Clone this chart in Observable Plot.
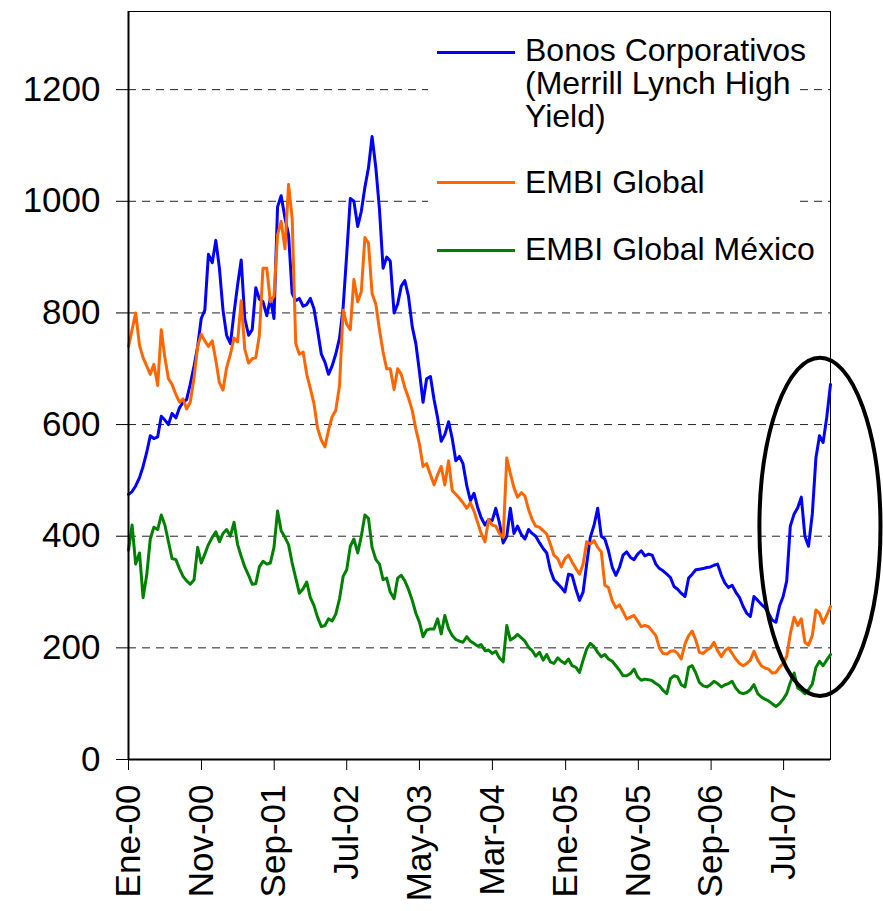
<!DOCTYPE html>
<html>
<head>
<meta charset="utf-8">
<script src="https://cdn.jsdelivr.net/npm/d3@7"></script>
<script src="https://cdn.jsdelivr.net/npm/@observablehq/plot@0.6"></script>
<style>
  body { margin: 0; background: #fff; }
  #wrap { position: relative; width: 883px; height: 911px; font-family: "Liberation Sans", Arial, sans-serif; }
  #legend { position: absolute; left: 428px; top: 20px; width: 372px; height: 258px; background: #fff; }
  .sw { position: absolute; left: 9px; width: 78px; height: 3px; }
  .lbl { position: absolute; left: 97px; font-size: 32px; line-height: 33px; color: #000; white-space: nowrap; }
</style>
</head>
<body>
<div id="wrap"></div>
<script>
// ---- data (semi-monthly readings, Jan 2000 – Jan 2008) ----
const seriesNames = ["Bonos Corporativos (Merrill Lynch High Yield)", "EMBI Global", "EMBI Global México"];
const seriesColors = ["#0000FF", "#FF6600", "#008000"];

const bonosCorporativos = [
  475,480,490,505,525,550,580,575,578,615,
  608,600,620,612,630,640,645,672,705,740,
  790,805,905,890,930,880,805,760,745,800,
  850,895,790,760,770,845,825,820,795,826,
  790,990,1010,970,940,835,822,826,812,815,
  826,808,770,726,712,690,705,726,755,810,
  905,1005,1000,955,982,1025,1060,1116,1059,985,
  880,900,893,800,816,848,858,830,775,745,
  695,640,682,686,645,612,570,582,605,575,
  535,543,530,490,464,477,452,433,420,430,
  428,450,425,388,400,450,405,418,403,395,
  412,405,400,388,378,370,340,322,315,308,
  300,332,330,305,285,300,350,398,420,450,
  400,395,374,344,330,344,366,372,362,358,
  368,374,365,368,366,350,342,338,332,326,
  310,305,298,292,325,332,340,341,342,344,
  345,348,350,330,316,308,312,300,290,274,
  262,256,292,285,278,272,262,250,246,275,
  292,320,418,440,451,470,400,382,440,540,
  580,568,612,672
];

const embiGlobal = [
  740,770,800,742,720,705,690,708,670,770,
  720,682,672,654,640,646,628,640,684,740,
  762,750,740,750,715,675,662,702,726,755,
  748,822,735,710,718,720,760,880,880,820,
  830,940,964,915,1030,970,745,726,730,690,
  665,638,594,572,560,590,614,625,670,805,
  780,770,860,820,838,935,925,835,815,770,
  730,700,700,663,700,690,666,648,625,592,
  565,525,530,510,492,510,525,492,535,482,
  475,468,460,450,460,445,425,405,390,430,
  420,418,405,398,540,512,487,470,478,472,
  448,430,418,416,410,404,386,366,360,345,
  360,366,354,342,332,350,390,386,392,380,
  372,312,308,284,272,277,265,252,255,258,
  248,238,240,238,230,222,200,190,189,194,
  195,190,180,207,222,230,214,192,190,196,
  200,210,195,184,195,200,190,180,172,168,
  172,178,194,178,168,164,162,155,156,165,
  172,185,225,255,240,252,210,205,222,268,
  262,244,258,274
];

const embiGlobalMexico = [
  375,420,350,370,290,330,395,416,412,438,
  420,390,360,358,342,328,320,314,322,380,
  352,368,385,398,408,390,405,412,400,425,
  385,364,345,330,314,315,345,355,350,352,
  380,445,410,398,385,352,325,298,306,318,
  290,276,255,238,240,252,248,260,288,328,
  340,382,395,370,400,438,432,380,358,350,
  322,325,300,288,325,330,320,305,285,262,
  246,220,232,234,234,252,225,258,234,222,
  215,212,210,220,212,208,203,206,195,196,
  190,194,182,175,240,214,218,224,218,212,
  201,195,185,192,178,188,175,172,182,176,
  172,180,168,165,156,178,198,208,202,192,
  184,188,180,176,168,160,150,150,154,162,
  148,142,144,143,141,136,132,124,118,145,
  150,148,134,130,165,168,155,138,132,130,
  134,140,136,130,134,136,140,128,120,118,
  120,125,134,118,112,108,105,100,95,100,
  108,118,138,155,128,124,118,125,135,165,
  176,168,178,188
];

const seriesValues = [bonosCorporativos, embiGlobal, embiGlobalMexico];

const startDate = "2000-01-01";
const endDate = "2008-01-13";
const stepDays = 15.2; // semi-monthly sampling

const yTicks = [0, 200, 400, 600, 800, 1000, 1200];
const xTickDates = ["2000-01-01","2000-11-01","2001-09-01","2002-07-01","2003-05-01","2004-03-01","2005-01-01","2005-11-01","2006-09-01","2007-07-01"];
const xTickLabels = ["Ene-00","Nov-00","Sep-01","Jul-02","May-03","Mar-04","Ene-05","Nov-05","Sep-06","Jul-07"];

// highlighted region (ellipse annotation)
const ellipseCenterDate = "2007-12-02";
const ellipseCenterValue = 416;
const ellipseHalfDays = 253;
const ellipseHalfValue = 303;

// ---- build ----
const start = new Date(startDate + "T00:00:00Z");
const end = new Date(endDate + "T00:00:00Z");
const dates = bonosCorporativos.map((_, i) => d3.utcDay.offset(start, Math.round(i * stepDays)));
const rows = seriesNames.flatMap((name, s) =>
  seriesValues[s].map((v, i) => ({date: dates[i], value: v, series: name}))
);
const tickDates = xTickDates.map(d => new Date(d + "T00:00:00Z"));
const labelMap = new Map(tickDates.map((d, i) => [+d, xTickLabels[i]]));

function ellipseMark(index, scales) {
  const c = new Date(ellipseCenterDate + "T00:00:00Z");
  const cx = scales.x(c);
  const cy = scales.y(ellipseCenterValue);
  const rx = scales.x(d3.utcDay.offset(c, ellipseHalfDays)) - cx;
  const ry = cy - scales.y(ellipseCenterValue + ellipseHalfValue);
  return d3.create("svg:ellipse")
    .attr("cx", cx).attr("cy", cy).attr("rx", rx).attr("ry", ry)
    .attr("fill", "none").attr("stroke", "#000").attr("stroke-width", 4)
    .node();
}

const chart = Plot.plot({
  width: 883,
  height: 911,
  marginTop: 11,
  marginBottom: 152,
  marginLeft: 128,
  marginRight: 53,
  style: {fontFamily: '"Liberation Sans", Arial, sans-serif', fontSize: "35px", color: "#000", background: "transparent", overflow: "visible"},
  x: {type: "utc", domain: [start, end]},
  y: {domain: [0, 1340]},
  color: {domain: seriesNames, range: seriesColors},
  marks: [
    Plot.gridY(yTicks, {stroke: "#222", strokeOpacity: 1, strokeDasharray: "8,6"}),
    Plot.frame({stroke: "#000", strokeWidth: 1}),
    Plot.lineY(rows, {x: "date", y: "value", z: "series", stroke: "series", strokeWidth: 3}),
    Plot.ruleX([start], {stroke: "#000", strokeWidth: 2}),
    Plot.ruleY([0], {stroke: "#000", strokeWidth: 2}),
    Plot.axisY(yTicks, {tickFormat: d => String(d), tickSize: 12, tickPadding: 16, label: null, stroke: "#000", strokeOpacity: 1}),
    Plot.axisX(tickDates, {tickFormat: d => labelMap.get(+d), tickRotate: -90, tickSize: 11, tickPadding: 14, label: null, stroke: "#000", strokeOpacity: 1}),
    ellipseMark
  ]
});

const wrap = document.getElementById("wrap");
wrap.appendChild(chart);

// ---- legend ----
const legend = document.createElement("div");
legend.id = "legend";
const swTops = [30.5, 160.5, 228.5];
seriesColors.forEach((c, i) => {
  const sw = document.createElement("div");
  sw.className = "sw";
  sw.style.top = swTops[i] + "px";
  sw.style.background = c;
  legend.appendChild(sw);
});
const legendLines = [
  {text: "Bonos Corporativos", top: 14.4},
  {text: "(Merrill Lynch High", top: 47.4},
  {text: "Yield)", top: 80.4},
  {text: "EMBI Global", top: 146.4},
  {text: "EMBI Global México", top: 212.9}
];
legendLines.forEach(l => {
  const t = document.createElement("div");
  t.className = "lbl";
  t.textContent = l.text;
  t.style.top = l.top + "px";
  legend.appendChild(t);
});
wrap.appendChild(legend);
</script>
</body>
</html>
